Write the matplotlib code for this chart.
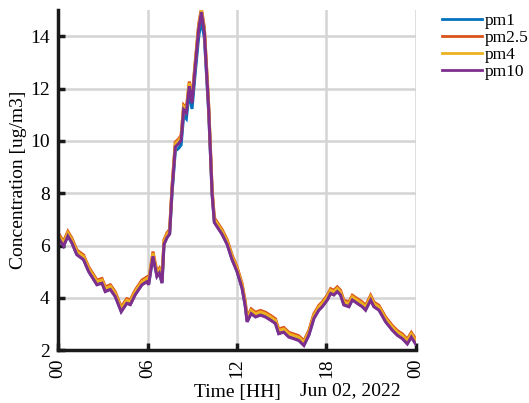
import numpy as np
import matplotlib
matplotlib.use('Agg')
import matplotlib.pyplot as plt

plt.rcParams['font.family'] = ['Liberation Serif', 'DejaVu Serif']

# time of day in hours, 02 Jun 2022
hours = [0.00, 0.36, 0.65, 0.92, 1.25, 1.70, 2.04, 2.60, 2.94, 3.16, 3.50, 3.83,
         4.23, 4.60, 4.84, 5.17, 5.62, 5.96, 6.07, 6.36, 6.63, 6.79, 6.97, 7.10,
         7.30, 7.48, 7.64, 7.86, 8.09, 8.25, 8.42, 8.60, 8.80, 8.98, 9.20, 9.43,
         9.61, 9.81, 10.10, 10.33, 10.48, 10.71, 11.00, 11.34, 11.67, 12.00, 12.34,
         12.55, 12.68, 12.95, 13.24, 13.58, 13.91, 14.25, 14.58, 14.80, 15.14, 15.48,
         15.81, 16.15, 16.49, 16.82, 17.16, 17.49, 17.72, 18.06, 18.28, 18.50, 18.73,
         18.95, 19.17, 19.51, 19.74, 20.07, 20.41, 20.63, 20.97, 21.19, 21.53, 21.98,
         22.43, 22.76, 23.10, 23.43, 23.70, 23.99]

pm10 = [6.30, 5.98, 6.36, 6.10, 5.65, 5.46, 5.01, 4.50, 4.56, 4.24, 4.32, 4.05,
        3.47, 3.79, 3.74, 4.12, 4.50, 4.62, 4.50, 5.59, 4.82, 4.95, 4.56, 6.04,
        6.30, 6.44, 8.10, 9.77, 9.90, 10.03, 11.19, 11.07, 12.09, 11.44, 12.86, 14.28,
        14.92, 14.15, 11.19, 7.97, 6.88, 6.68, 6.43, 6.04, 5.46, 5.01, 4.37,
        3.70, 3.08, 3.40, 3.27, 3.34, 3.27, 3.15, 3.02, 2.63, 2.69, 2.50,
        2.44, 2.37, 2.18, 2.57, 3.21, 3.53, 3.66, 3.92, 4.17, 4.11, 4.24,
        4.11, 3.73, 3.66, 3.92, 3.79, 3.66, 3.53, 3.92, 3.66, 3.53, 3.08,
        2.76, 2.57, 2.44, 2.24, 2.50, 2.24]

pm4 = [6.42, 6.10, 6.48, 6.22, 5.77, 5.58, 5.13, 4.62, 4.68, 4.36, 4.44, 4.17,
       3.59, 3.91, 3.86, 4.24, 4.62, 4.74, 4.62, 5.71, 4.94, 5.07, 4.68, 6.16,
       6.42, 6.56, 8.22, 9.89, 10.02, 10.15, 11.31, 11.19, 12.21, 11.56, 12.98, 14.40,
       15.00, 14.27, 11.31, 8.09, 7.00, 6.80, 6.55, 6.16, 5.58, 5.13, 4.49,
       3.82, 3.20, 3.52, 3.39, 3.46, 3.39, 3.27, 3.14, 2.75, 2.81, 2.62,
       2.56, 2.49, 2.30, 2.69, 3.33, 3.65, 3.78, 4.04, 4.29, 4.23, 4.36,
       4.23, 3.85, 3.78, 4.04, 3.91, 3.78, 3.65, 4.04, 3.78, 3.65, 3.20,
       2.88, 2.69, 2.56, 2.36, 2.62, 2.36]

pm25 = [6.48, 6.16, 6.54, 6.28, 5.83, 5.64, 5.19, 4.68, 4.74, 4.42, 4.50, 4.23,
        3.65, 3.97, 3.92, 4.30, 4.68, 4.80, 4.68, 5.77, 5.00, 5.13, 4.74, 6.22,
        6.48, 6.62, 8.28, 9.95, 10.08, 10.21, 11.37, 11.25, 12.27, 11.62, 13.04, 14.46,
        15.05, 14.33, 11.37, 8.15, 7.06, 6.86, 6.61, 6.22, 5.64, 5.19, 4.55,
        3.88, 3.26, 3.58, 3.45, 3.52, 3.45, 3.33, 3.20, 2.81, 2.87, 2.68,
        2.62, 2.55, 2.36, 2.75, 3.39, 3.71, 3.84, 4.10, 4.35, 4.29, 4.42,
        4.29, 3.91, 3.84, 4.10, 3.97, 3.84, 3.71, 4.10, 3.84, 3.71, 3.26,
        2.94, 2.75, 2.62, 2.42, 2.68, 2.42]

pm1 = [6.32, 6.00, 6.38, 6.12, 5.67, 5.48, 5.03, 4.52, 4.58, 4.26, 4.34, 4.07,
       3.49, 3.81, 3.76, 4.14, 4.52, 4.64, 4.52, 5.61, 4.84, 4.97, 4.58, 6.06,
       6.32, 6.46, 8.00, 9.62, 9.72, 9.85, 10.98, 10.85, 11.88, 11.22, 12.62, 14.00,
       14.60, 13.95, 11.10, 7.97, 6.90, 6.70, 6.45, 6.06, 5.48, 5.03, 4.39,
       3.72, 3.10, 3.42, 3.29, 3.36, 3.29, 3.17, 3.04, 2.65, 2.71, 2.52,
       2.46, 2.39, 2.20, 2.59, 3.23, 3.55, 3.68, 3.94, 4.19, 4.13, 4.26,
       4.13, 3.75, 3.68, 3.94, 3.81, 3.68, 3.55, 3.94, 3.68, 3.55, 3.10,
       2.78, 2.59, 2.46, 2.26, 2.52, 2.26]

series = [('pm1', pm1, '#0072BD'), ('pm2.5', pm25, '#D95319'),
          ('pm4', pm4, '#EDB120'), ('pm10', pm10, '#7E2F8E')]

xticks = [0, 6, 12, 18, 24]
xticklabels = ['00', '06', '12', '18', '00']

fig = plt.figure(figsize=(5.29, 4.03), dpi=100)
ax = fig.add_axes([0.110, 0.131, 0.676, 0.844])

for name, vals, col in series:
    ax.plot(hours, vals, color=col, lw=2.2, label=name, solid_joinstyle='miter')

ax.set_xlim(0, 24)
ax.set_ylim(2, 15)
ax.set_xticks(xticks)
ax.set_xticklabels(xticklabels, rotation=90)
ax.set_yticks([2, 4, 6, 8, 10, 12, 14])

ax.grid(True, color='#d4d4d4', lw=1.8)
ax.set_axisbelow(True)
for s in ['top', 'right']:
    ax.spines[s].set_visible(False)
for s in ['left', 'bottom']:
    ax.spines[s].set_linewidth(2.5)
    ax.spines[s].set_color('#1a1a1a')
ax.tick_params(direction='in', length=5, width=2.5, color='#1a1a1a',
               labelsize=14, pad=6)

ax.set_ylabel('Concentration [ug/m3]', fontsize=14, labelpad=2)
ax.set_xlabel('Time [HH]', fontsize=14, labelpad=4)
fig.text(0.757, 0.02, 'Jun 02, 2022', fontsize=14, ha='right', va='baseline')

leg = ax.legend(loc='upper left', bbox_to_anchor=(0.822, 0.985),
                bbox_transform=fig.transFigure, frameon=False, fontsize=12.5,
                handlelength=2.3, handletextpad=0.15, labelspacing=0.05,
                borderaxespad=0)
for ln in leg.get_lines():
    ln.set_linewidth(2)

fig.savefig('out.png', dpi=100)
